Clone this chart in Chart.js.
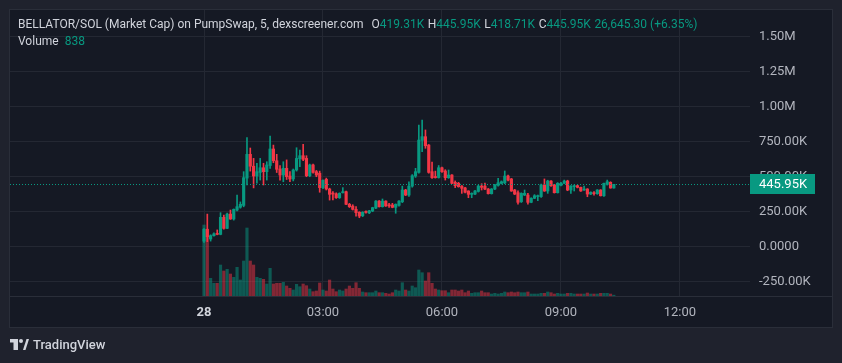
<!DOCTYPE html>
<html>
<head>
<meta charset="utf-8">
<script src="https://cdn.jsdelivr.net/npm/chart.js@4.4.1/dist/chart.umd.min.js"></script>
<style>
  html, body { margin: 0; padding: 0; background: #1f222d; }
  #wrap { position: relative; width: 842px; height: 363px; overflow: hidden; }
  #wrap canvas { position: absolute; left: 0; top: 0; }
  .legend { position: absolute; left: 18px; font: 12px Roboto, sans-serif; line-height: 14px; color: #d1d4dc; white-space: nowrap; }
  .legend .v { color: #089981; }
  .legend .gap { display: inline-block; width: 3.5px; }
  #footer { position: absolute; left: 10px; top: 337px; font: 500 13px Roboto, sans-serif; color: #d1d4dc; display: flex; align-items: center; gap: 4px; }
</style>
</head>
<body>
<div id="wrap">
  <canvas id="chart"></canvas>
  <div class="legend" style="top:17px">BELLATOR/SOL (Market Cap) on PumpSwap, 5, dexscreener.com<span class="gap" style="width:8px"></span>O<span class="v">419.31K</span><span class="gap"></span>H<span class="v">445.95K</span><span class="gap"></span>L<span class="v">418.71K</span><span class="gap"></span>C<span class="v">445.95K</span><span class="gap"></span><span class="v">26,645.30 (+6.35%)</span></div>
  <div class="legend" style="top:34px">Volume<span class="gap" style="width:6px"></span><span class="v">838</span></div>
  <div id="footer">
    <svg width="19" height="11" viewBox="0 0 19 11"><rect x="0" y="0" width="8" height="3.5" fill="#d1d4dc"/><rect x="3.5" y="0" width="4.5" height="11" fill="#d1d4dc"/><circle cx="11" cy="2" r="2" fill="#d1d4dc"/><polygon points="13,11 16.5,0 19,0 15.5,11" fill="#d1d4dc"/></svg>
    <span>TradingView</span>
  </div>
</div>
<script>
// 5 minute candles, market cap in thousands (K), starting 28th 00:00
const stepMinutes = 5;
const opens  = [40,125,55,79,92,88,210,131,233,198,262,282,295,490,660,575,505,531,564,536,580,698,614,555,512,560,505,484,548,628,650,631,507,584,536,525,422,481,412,381,378,350,386,393,303,290,267,246,221,250,242,255,276,326,286,326,296,298,281,295,321,405,369,433,505,531,760,786,726,536,500,494,564,541,493,512,460,453,433,420,398,374,376,395,433,433,412,379,412,438,452,456,505,484,405,386,321,369,369,317,346,358,358,441,398,469,441,386,438,453,469,405,429,436,424,405,412,376,386,379,405,364,445,460,419.31];
const highs  = [130,233,85,100,120,243,226,240,262,270,369,320,536,779,705,631,596,631,596,607,791,726,660,580,607,620,536,555,707,691,731,650,590,590,545,540,478,490,418,393,385,385,422,398,310,300,286,250,250,257,260,282,330,330,341,328,310,310,306,330,433,410,464,515,560,869,905,834,730,605,540,580,568,550,548,515,470,460,437,425,400,385,402,440,450,455,416,416,445,489,470,541,512,488,410,400,385,405,381,350,372,369,448,484,475,472,445,458,460,476,475,436,441,440,426,433,415,392,393,408,408,455,476,464,445.95];
const lows   = [30,36,40,75,85,85,125,128,195,190,255,275,285,441,540,420,453,476,441,476,560,600,530,476,464,480,464,470,540,571,615,500,500,525,500,389,415,405,333,335,345,345,383,300,280,262,219,207,215,239,236,250,272,283,283,288,281,278,239,290,315,365,360,425,495,525,679,703,525,488,490,490,530,476,488,450,422,425,381,385,350,350,372,390,405,408,376,376,408,432,448,450,470,395,372,303,316,365,303,314,343,329,352,395,381,430,383,383,434,450,400,381,398,420,395,402,357,372,369,374,362,360,440,418,418.71];
const closes = [125,71,79,92,88,210,131,233,198,267,286,303,493,660,575,505,536,564,536,584,698,614,553,512,560,500,484,548,631,650,624,507,584,531,512,422,474,412,374,376,350,381,393,303,286,267,243,219,246,245,257,279,326,286,326,291,292,281,303,326,405,369,433,507,536,762,786,721,531,493,494,564,536,493,512,453,436,429,417,389,374,381,398,433,424,412,379,412,441,457,464,505,476,398,376,317,381,381,317,346,364,364,441,398,469,436,386,453,453,469,405,433,436,424,398,412,376,389,379,405,364,453,464,419.31,445.95];
const volumes = [71000,66000,17700,12700,12700,31000,25000,26700,22000,18700,28700,16000,35000,68000,35000,31000,18700,17700,16700,12000,27700,12000,12700,12700,13700,10000,7700,6000,11700,9300,12000,10300,7000,4300,5000,13000,6000,5000,16000,7000,4300,6000,5000,7000,10000,7700,13300,7700,4000,3300,3300,3300,5000,3300,3300,2700,2000,3300,6000,5000,13300,6000,5000,10000,8300,26000,23300,15000,23300,12700,7000,6000,5300,5300,3300,6000,6000,5000,6000,3300,5000,2700,3300,3300,5000,3300,3300,2000,2700,2000,2700,4000,3300,4000,3300,4000,3300,3300,4000,2000,2000,2000,2700,2700,4000,3300,2000,2700,2000,2000,2700,2700,2000,2000,2000,2000,3000,2000,2000,2000,2700,2700,2700,2000,838];

const timeTicks = [0, 180, 360, 540, 720];
const timeTickLabels = ['28', '03:00', '06:00', '09:00', '12:00'];
const priceTicks = [-250, 0, 250, 500, 750, 1000, 1250, 1500];
const priceTickLabels = ['-250.00K', '0.0000', '250.00K', '500.00K', '750.00K', '1.00M', '1.25M', '1.50M'];

const UP = '#089981', DOWN = '#f23645';
const UP_VOL = 'rgba(8,153,129,0.5)', DOWN_VOL = 'rgba(242,54,69,0.5)';
const GRID = '#242833', BORDER = '#2a2e39', PANEL = '#151924';

const isUp = opens.map((o, i) => closes[i] >= o);
const xs = opens.map((_, i) => i * stepMinutes);

const lastClose = closes[closes.length - 1];

const panelPlugin = {
    id: 'panel',
    beforeDraw(chart) {
        const ctx = chart.ctx;
        ctx.save();
        ctx.fillStyle = PANEL;
        ctx.fillRect(10, 10, 822, 317);
        ctx.restore();
    },
    afterDatasetsDraw(chart) {
        // dotted last price line
        const ctx = chart.ctx, area = chart.chartArea;
        const y = Math.round(chart.scales.y.getPixelForValue(lastClose)) + 0.5;
        ctx.save();
        ctx.strokeStyle = UP;
        ctx.lineWidth = 1;
        ctx.setLineDash([1, 2]);
        ctx.beginPath();
        ctx.moveTo(area.left, y);
        ctx.lineTo(area.right, y);
        ctx.stroke();
        ctx.restore();
    },
    afterDraw(chart) {
        const ctx = chart.ctx, area = chart.chartArea;
        const y = chart.scales.y.getPixelForValue(lastClose);
        ctx.save();
        // separators and frame
        ctx.strokeStyle = BORDER;
        ctx.lineWidth = 1;
        ctx.beginPath();
        ctx.moveTo(10, area.bottom + 0.5);
        ctx.lineTo(832, area.bottom + 0.5);
        ctx.stroke();
        ctx.strokeRect(9.5, 9.5, 823, 318);
        // last price label
        ctx.fillStyle = UP;
        ctx.fillRect(area.right, Math.round(y) - 10, 65, 20);
        ctx.fillStyle = '#ffffff';
        ctx.font = '13px Roboto, sans-serif';
        ctx.textBaseline = 'middle';
        ctx.textAlign = 'left';
        ctx.fillText(lastClose.toFixed(2) + 'K', area.right + 9, Math.round(y) + 0.5);
        ctx.restore();
    }
};

new Chart(document.getElementById('chart'), {
    type: 'bar',
    data: {
        datasets: [
            {
                // candle bodies
                data: xs.map((x, i) => ({ x: x, y: [opens[i], closes[i]] })),
                backgroundColor: isUp.map(u => u ? UP : DOWN),
                barThickness: 2.5,
                minBarLength: 1,
                grouped: false,
                yAxisID: 'y',
                order: 0
            },
            {
                // wicks
                data: xs.map((x, i) => ({ x: x, y: [lows[i], highs[i]] })),
                backgroundColor: isUp.map(u => u ? UP : DOWN),
                barThickness: 1,
                grouped: false,
                yAxisID: 'y',
                order: 1
            },
            {
                // volume
                data: xs.map((x, i) => ({ x: x, y: volumes[i] })),
                backgroundColor: isUp.map(u => u ? UP_VOL : DOWN_VOL),
                barThickness: 2.5,
                grouped: false,
                yAxisID: 'yVol',
                order: 2
            }
        ]
    },
    options: {
        responsive: true,
        maintainAspectRatio: false,
        animation: false,
        layout: { padding: { left: 10, top: 10, right: 10, bottom: 36 } },
        plugins: { legend: { display: false }, tooltip: { enabled: false } },
        scales: {
            x: {
                type: 'linear',
                offset: false,
                min: -293.5,
                max: 826,
                afterBuildTicks: (scale) => { scale.ticks = timeTicks.map(v => ({ value: v })); },
                afterFit: (scale) => {
                    scale.height = 31;
                    scale.paddingLeft = 0;
                    scale.paddingRight = 0;
                },
                ticks: {
                    padding: 9,
                    maxRotation: 0,
                    autoSkip: false,
                    color: (c) => c.tick && c.tick.value === 0 ? '#d1d4dc' : '#b2b5be',
                    font: (c) => ({ family: 'Roboto, sans-serif', size: 13, weight: c.tick && c.tick.value === 0 ? 'bold' : 'normal' }),
                    callback: (v) => timeTickLabels[timeTicks.indexOf(v)]
                },
                grid: { color: GRID, drawTicks: false, offset: false },
                border: { display: false }
            },
            y: {
                position: 'right',
                min: -352,
                max: 1690.7,
                afterBuildTicks: (scale) => { scale.ticks = priceTicks.map(v => ({ value: v })); },
                afterFit: (scale) => {
                    scale.width = 82;
                    scale.paddingTop = 0;
                    scale.paddingBottom = 0;
                },
                ticks: {
                    padding: 9,
                    color: '#b2b5be',
                    font: { family: 'Roboto, sans-serif', size: 13 },
                    callback: (v) => priceTickLabels[priceTicks.indexOf(v)]
                },
                grid: { color: GRID, drawTicks: false },
                border: { display: false }
            },
            yVol: {
                display: false,
                min: 0,
                max: 286000
            }
        }
    },
    plugins: [panelPlugin]
});
</script>
</body>
</html>
